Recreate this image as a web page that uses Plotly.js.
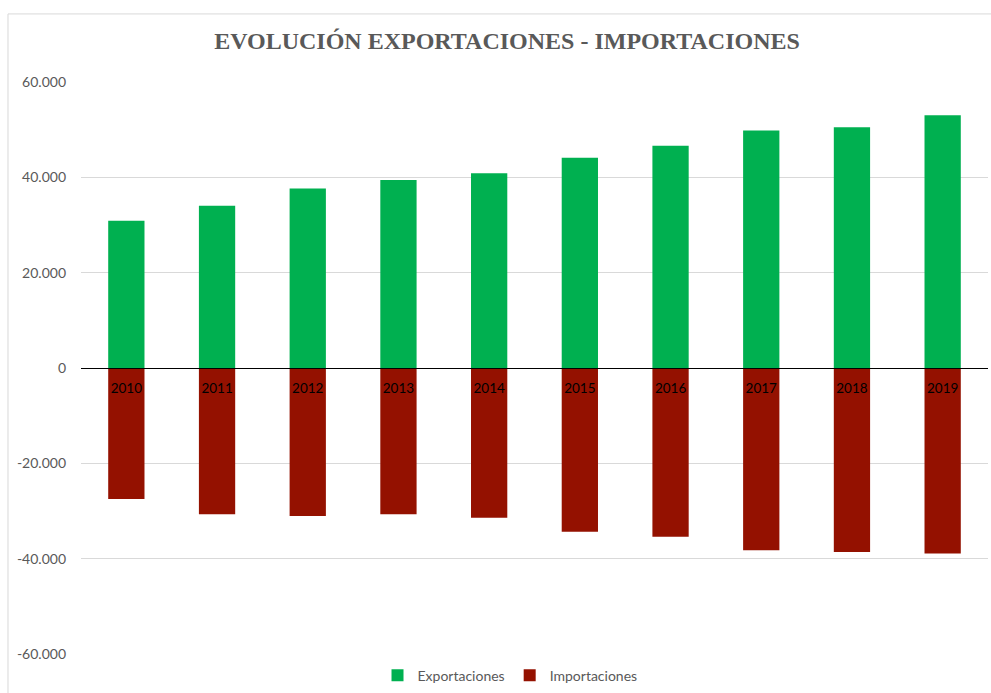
<!DOCTYPE html>
<html>
<head>
<meta charset="utf-8">
<script src="https://cdn.plot.ly/plotly-3.0.1.min.js"></script>
<style>
  html, body { margin: 0; padding: 0; background: #fff; }
  #chart { width: 991px; height: 693px; }
</style>
</head>
<body>
<div id="chart"></div>
<script>
// Years on the category axis
const years = ['2010', '2011', '2012', '2013', '2014', '2015', '2016', '2017', '2018', '2019'];

// Exports (positive) and imports (negative), same units as the value axis
const exportaciones = [30900, 34050, 37650, 39450, 40850, 44100, 46600, 49800, 50500, 53050];
const importaciones = [-27500, -30700, -31050, -30700, -31400, -34350, -35400, -38250, -38600, -38900];

// Value axis ticks, written with a dot as thousands separator
const yTickVals = [-60000, -40000, -20000, 0, 20000, 40000, 60000];
const yTickText = ['-60.000', '-40.000', '-20.000', '0', '20.000', '40.000', '60.000'];

const traces = [
  {
    type: 'bar',
    name: 'Exportaciones',
    x: years,
    y: exportaciones,
    marker: { color: '#00B050' },
    hoverinfo: 'x+y'
  },
  {
    type: 'bar',
    name: 'Importaciones',
    x: years,
    y: importaciones,
    marker: { color: '#941100' },
    hoverinfo: 'x+y'
  }
];

const layout = {
  width: 991,
  height: 693,
  paper_bgcolor: '#ffffff',
  plot_bgcolor: '#ffffff',
  margin: { l: 81, r: 3, t: 82, b: 39, autoexpand: false },
  barmode: 'relative',
  bargap: 0.6,
  showlegend: true,
  title: {
    text: '<b>EVOLUCIÓN EXPORTACIONES - IMPORTACIONES</b>',
    font: { family: '"Liberation Serif", "Times New Roman", serif', size: 24, color: '#595959' },
    x: 0.5116,
    xref: 'container',
    xanchor: 'center',
    y: 36,
    yref: 'container',
    yanchor: 'middle'
  },
  xaxis: {
    type: 'category',
    anchor: 'free',
    position: 0.5,
    side: 'bottom',
    automargin: false,
    showgrid: false,
    zeroline: false,
    showline: true,
    linecolor: '#000000',
    linewidth: 1,
    ticks: '',
    ticklabelstandoff: 8,
    tickfont: { family: 'Lato, "Open Sans", sans-serif', size: 13.5, color: '#000000' },
    layer: 'above traces',
    fixedrange: true
  },
  yaxis: {
    range: [-60000, 60000],
    tickvals: yTickVals,
    ticktext: yTickText,
    automargin: false,
    showgrid: true,
    gridcolor: '#d9d9d9',
    gridwidth: 1,
    zeroline: false,
    showline: false,
    ticks: '',
    ticklabelstandoff: 14,
    tickfont: { family: 'Lato, "Open Sans", sans-serif', size: 14, color: '#595959' },
    fixedrange: true
  },
  legend: {
    orientation: 'h',
    x: 0.473,
    xanchor: 'center',
    y: -0.038,
    yanchor: 'middle',
    font: { family: 'Lato, "Open Sans", sans-serif', size: 14, color: '#595959' },
    bgcolor: 'rgba(0,0,0,0)'
  },
  shapes: [
    {
      type: 'rect',
      xref: 'paper',
      yref: 'paper',
      x0: -0.0805,
      x1: 1.2,
      y0: -0.2,
      y1: 1.119,
      line: { color: '#d9d9d9', width: 1 },
      fillcolor: 'rgba(0,0,0,0)',
      layer: 'below'
    }
  ]
};

Plotly.newPlot('chart', traces, layout, { displayModeBar: false, staticPlot: true });
</script>
</body>
</html>
